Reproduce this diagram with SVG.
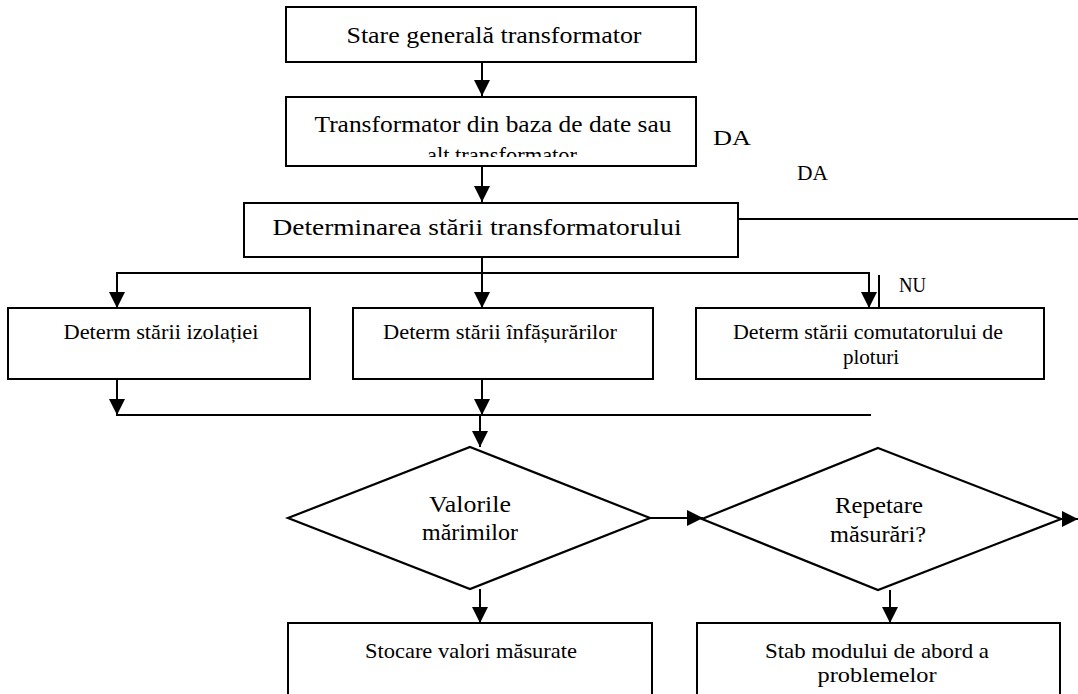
<svg xmlns="http://www.w3.org/2000/svg" width="1078" height="694" viewBox="0 0 1078 694">
  <style>
    .box { fill: #fff; stroke: #000; stroke-width: 2; }
    .dec { fill: #fff; stroke: #000; stroke-width: 2.2; stroke-linejoin: miter; }
    .lbl { font-family: "Liberation Serif", "Times New Roman", serif; font-size: 23px; fill: #000; text-anchor: middle; }
    .sm { font-size: 21px; }
    .wire { fill: none; stroke: #000; stroke-width: 2; }
    .tag { font-family: "Liberation Serif", "Times New Roman", serif; font-size: 21px; fill: #000; }
  </style>
  <defs>
    <marker id="arrow" markerUnits="userSpaceOnUse" markerWidth="16" markerHeight="16" viewBox="0 0 16 16" refX="16" refY="8" orient="auto">
      <path d="M0,0 L16,8 L0,16 Z" fill="#000"/>
    </marker>
    <clipPath id="clip-db"><rect x="286" y="97" width="410" height="60"/></clipPath>
    <clipPath id="clip-tap"><rect x="696" y="308" width="348" height="64"/></clipPath>
  </defs>
  <rect width="1078" height="694" fill="#fff"/>

  <!-- connectors -->
  <g id="connectors">
    <path class="wire" d="M482,62 V96" marker-end="url(#arrow)"/>
    <path class="wire" d="M482,166 V202" marker-end="url(#arrow)"/>
    <path class="wire" d="M738,219 H1078"/>
    <path class="wire" d="M482,257 V273 M116,273 H870"/>
    <path class="wire" d="M117,272 V308" marker-end="url(#arrow)"/>
    <path class="wire" d="M482,273 V308" marker-end="url(#arrow)"/>
    <path class="wire" d="M869,272 V308" marker-end="url(#arrow)"/>
    <path class="wire" d="M879,275 V308"/>
    <path class="wire" d="M117,379 V415" marker-end="url(#arrow)"/>
    <path class="wire" d="M482,379 V415" marker-end="url(#arrow)"/>
    <path class="wire" d="M116,415 H871"/>
    <path class="wire" d="M480,415 V447" marker-end="url(#arrow)"/>
    <path class="wire" d="M650,518 H703" marker-end="url(#arrow)"/>
    <path class="wire" d="M1061,519 H1078" marker-end="url(#arrow)"/>
    <path class="wire" d="M480,589 V623" marker-end="url(#arrow)"/>
    <path class="wire" d="M890,590 V623" marker-end="url(#arrow)"/>
  </g>

  <g id="stare-generala">
    <rect class="box" x="286" y="7" width="410" height="55"/>
    <text class="lbl" x="494" y="43" textLength="295" lengthAdjust="spacingAndGlyphs">Stare generală transformator</text>
  </g>

  <g id="baza-de-date">
    <rect class="box" x="286" y="97" width="410" height="69"/>
    <g clip-path="url(#clip-db)">
      <text class="lbl" x="493" y="132" textLength="357" lengthAdjust="spacingAndGlyphs">Transformator din baza de date sau</text>
      <text class="lbl" x="502" y="163" textLength="150" lengthAdjust="spacingAndGlyphs">alt transformator</text>
    </g>
  </g>

  <g id="determinarea-starii">
    <rect class="box" x="244" y="203" width="494" height="54"/>
    <text class="lbl" x="477" y="235" textLength="409" lengthAdjust="spacingAndGlyphs">Determinarea stării transformatorului</text>
  </g>

  <g id="labels">
    <text class="tag" x="713" y="145" textLength="38" lengthAdjust="spacingAndGlyphs">DA</text>
    <text class="tag" x="797" y="180" textLength="31" lengthAdjust="spacingAndGlyphs">DA</text>
    <text class="tag" x="899" y="292" textLength="27" lengthAdjust="spacingAndGlyphs">NU</text>
  </g>

  <g id="stare-izolatie">
    <rect class="box" x="8" y="308" width="302" height="71"/>
    <text class="lbl sm" x="161" y="339" textLength="195" lengthAdjust="spacingAndGlyphs">Determ stării izolației</text>
  </g>

  <g id="stare-infasurari">
    <rect class="box" x="353" y="308" width="300" height="71"/>
    <text class="lbl sm" x="500" y="339" textLength="234" lengthAdjust="spacingAndGlyphs">Determ stării înfășurărilor</text>
  </g>

  <g id="stare-comutator">
    <rect class="box" x="696" y="308" width="348" height="71"/>
    <g clip-path="url(#clip-tap)">
      <text class="lbl sm" x="868" y="339" textLength="270" lengthAdjust="spacingAndGlyphs">Determ stării comutatorului de</text>
      <text class="lbl sm" x="871" y="364" textLength="56" lengthAdjust="spacingAndGlyphs">ploturi</text>
    </g>
  </g>

  <g id="valorile-marimilor">
    <polygon class="dec" points="470,447 650,518 470,589 288,518"/>
    <text class="lbl" x="470" y="512" textLength="82" lengthAdjust="spacingAndGlyphs">Valorile</text>
    <text class="lbl" x="470" y="540" textLength="96" lengthAdjust="spacingAndGlyphs">mărimilor</text>
  </g>

  <g id="repetare-masurari">
    <polygon class="dec" points="878,448 1061,519 878,590 702,519"/>
    <text class="lbl" x="879" y="513" textLength="88" lengthAdjust="spacingAndGlyphs">Repetare</text>
    <text class="lbl" x="878" y="542" textLength="96" lengthAdjust="spacingAndGlyphs">măsurări?</text>
  </g>

  <g id="stocare-valori">
    <rect class="box" x="288" y="623" width="364" height="80"/>
    <text class="lbl sm" x="471" y="658" textLength="212" lengthAdjust="spacingAndGlyphs">Stocare valori măsurate</text>
  </g>

  <g id="mod-abordare">
    <rect class="box" x="697" y="623" width="363" height="80"/>
    <text class="lbl sm" x="877" y="658" textLength="224" lengthAdjust="spacingAndGlyphs">Stab modului de abord a</text>
    <text class="lbl sm" x="877" y="682" textLength="119" lengthAdjust="spacingAndGlyphs">problemelor</text>
  </g>
</svg>
